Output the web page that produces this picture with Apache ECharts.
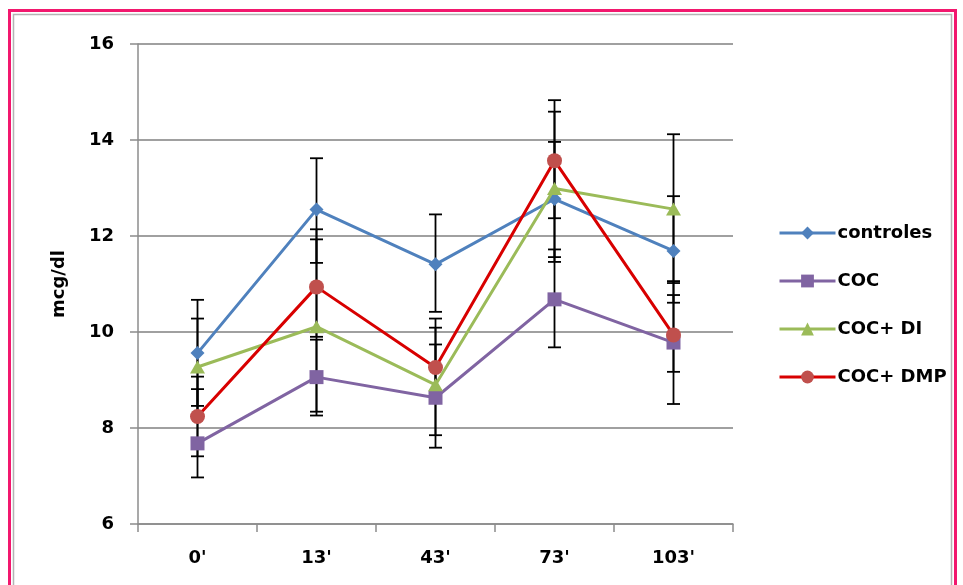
<!DOCTYPE html>
<html>
<head>
<meta charset="utf-8">
<script src="https://cdn.jsdelivr.net/npm/echarts@6/dist/echarts.min.js"></script>
<style>
html,body{margin:0;padding:0;background:#fff;}
#chart{width:963px;height:585px;}
</style>
</head>
<body>
<div id="chart"></div>
<script>
// ---- data ----
const categories = ["0'", "13'", "43'", "73'", "103'"];
const seriesNames = ["controles", "COC", "COC+ DI", "COC+ DMP"];
const yTicks = [6, 8, 10, 12, 14, 16];

const controles     = [9.56, 12.55, 11.41, 12.77, 11.69];
const coc           = [7.68, 9.06, 8.63, 10.68, 9.78];
const cocDI         = [9.27, 10.11, 8.90, 12.99, 12.56];
const cocDMP        = [8.24, 10.94, 9.26, 13.57, 9.94];

// error bar bounds (low / high)
const controlesLow  = [8.46, 11.44, 10.42, 11.56, 10.61];
const controlesHigh = [10.67, 13.62, 12.45, 13.96, 12.83];
const cocLow        = [6.97, 8.26, 7.59, 9.68, 8.50];
const cocHigh       = [8.81, 9.84, 9.74, 11.72, 11.06];
const cocDILow      = [8.26, 8.34, 7.85, 11.46, 11.02];
const cocDIHigh     = [10.28, 11.93, 10.09, 14.59, 14.12];
const cocDMPLow     = [7.41, 9.90, 8.78, 12.37, 9.17];
const cocDMPHigh    = [9.07, 12.14, 10.28, 14.83, 10.77];

// ---- build ----
const values = [controles, coc, cocDI, cocDMP];
const lows = [controlesLow, cocLow, cocDILow, cocDMPLow];
const highs = [controlesHigh, cocHigh, cocDIHigh, cocDMPHigh];
const lineColors = ['#4F81BD', '#8064A2', '#9BBB59', '#D80000'];
const markColors = ['#4F81BD', '#8064A2', '#9BBB59', '#C0504D'];
const symbols = ['diamond', 'rect', 'triangle', 'circle'];
const symbolSizes = [[14, 14], [14, 14], [15, 13], [15, 15]];

const font = 'DejaVu Sans';

const series = [];
// error bars
for (let s = 0; s < 4; s++) {
  series.push({
    type: 'custom',
    name: seriesNames[s] + ' err',
    z: 1,
    silent: true,
    data: categories.map((c, i) => [i, lows[s][i], highs[s][i]]),
    encode: { x: 0, y: [1, 2] },
    renderItem: function (params, api) {
      const lo = api.coord([api.value(0), api.value(1)]);
      const hi = api.coord([api.value(0), api.value(2)]);
      const hw = 6.5;
      const st = { stroke: '#000', lineWidth: 1.8 };
      return {
        type: 'group',
        children: [
          { type: 'line', shape: { x1: lo[0], y1: lo[1], x2: hi[0], y2: hi[1] }, style: st },
          { type: 'line', shape: { x1: lo[0] - hw, y1: lo[1], x2: lo[0] + hw, y2: lo[1] }, style: st },
          { type: 'line', shape: { x1: hi[0] - hw, y1: hi[1], x2: hi[0] + hw, y2: hi[1] }, style: st }
        ]
      };
    }
  });
}
for (let s = 0; s < 4; s++) {
  series.push({
    type: 'line',
    name: seriesNames[s],
    z: 3 + s,
    data: values[s],
    symbol: symbols[s],
    symbolSize: symbolSizes[s],
    showAllSymbol: true,
    lineStyle: { color: lineColors[s], width: 3 },
    itemStyle: { color: markColors[s], borderWidth: 0 },
    emphasis: { disabled: true },
    animation: false
  });
}

const chart = echarts.init(document.getElementById('chart'), null, { renderer: 'canvas' });
chart.setOption({
  animation: false,
  backgroundColor: '#ffffff',
  grid: { left: 138, right: 230, top: 44, bottom: 61, containLabel: false },
  legend: {
    data: seriesNames,
    orient: 'vertical',
    left: 773,
    top: 219,
    itemWidth: 56,
    itemHeight: 16,
    itemGap: 30,
    lineStyle: { width: 3 },
    textStyle: { fontFamily: font, fontWeight: 'bold', fontSize: 18, color: '#000', padding: [0, 0, 0, -3] }
  },
  xAxis: {
    type: 'category',
    data: categories,
    boundaryGap: true,
    axisLine: { lineStyle: { color: '#8C8C8C', width: 1.5 } },
    axisTick: { show: true, length: 8, alignWithLabel: false, lineStyle: { color: '#8C8C8C', width: 1.5 } },
    axisLabel: { fontFamily: font, fontWeight: 'bold', fontSize: 18, color: '#000', margin: 25 },
    splitLine: { show: false }
  },
  yAxis: {
    type: 'value',
    min: yTicks[0],
    max: yTicks[yTicks.length - 1],
    interval: 2,
    name: 'mcg/dl',
    nameLocation: 'middle',
    nameGap: 64,
    nameRotate: 90,
    nameTextStyle: { fontFamily: font, fontWeight: 'bold', fontSize: 18, color: '#000', padding: [0, 0, 6, 0] },
    axisLine: { show: true, lineStyle: { color: '#8C8C8C', width: 1.5 } },
    axisTick: { show: true, length: 8, lineStyle: { color: '#8C8C8C', width: 1.5 } },
    axisLabel: { fontFamily: font, fontWeight: 'bold', fontSize: 18, color: '#000', margin: 24 },
    splitLine: { show: true, lineStyle: { color: '#A0A0A0', width: 2 } }
  },
  graphic: [
    { type: 'rect', z: 100, shape: { x: 9.5, y: 10.5, width: 946, height: 600 }, style: { fill: null, stroke: '#F2186E', lineWidth: 3 } },
    { type: 'rect', z: 100, shape: { x: 13.5, y: 14.5, width: 938, height: 600 }, style: { fill: null, stroke: '#B4B4B4', lineWidth: 1.5 } }
  ],
  series: series
});
</script>
</body>
</html>
